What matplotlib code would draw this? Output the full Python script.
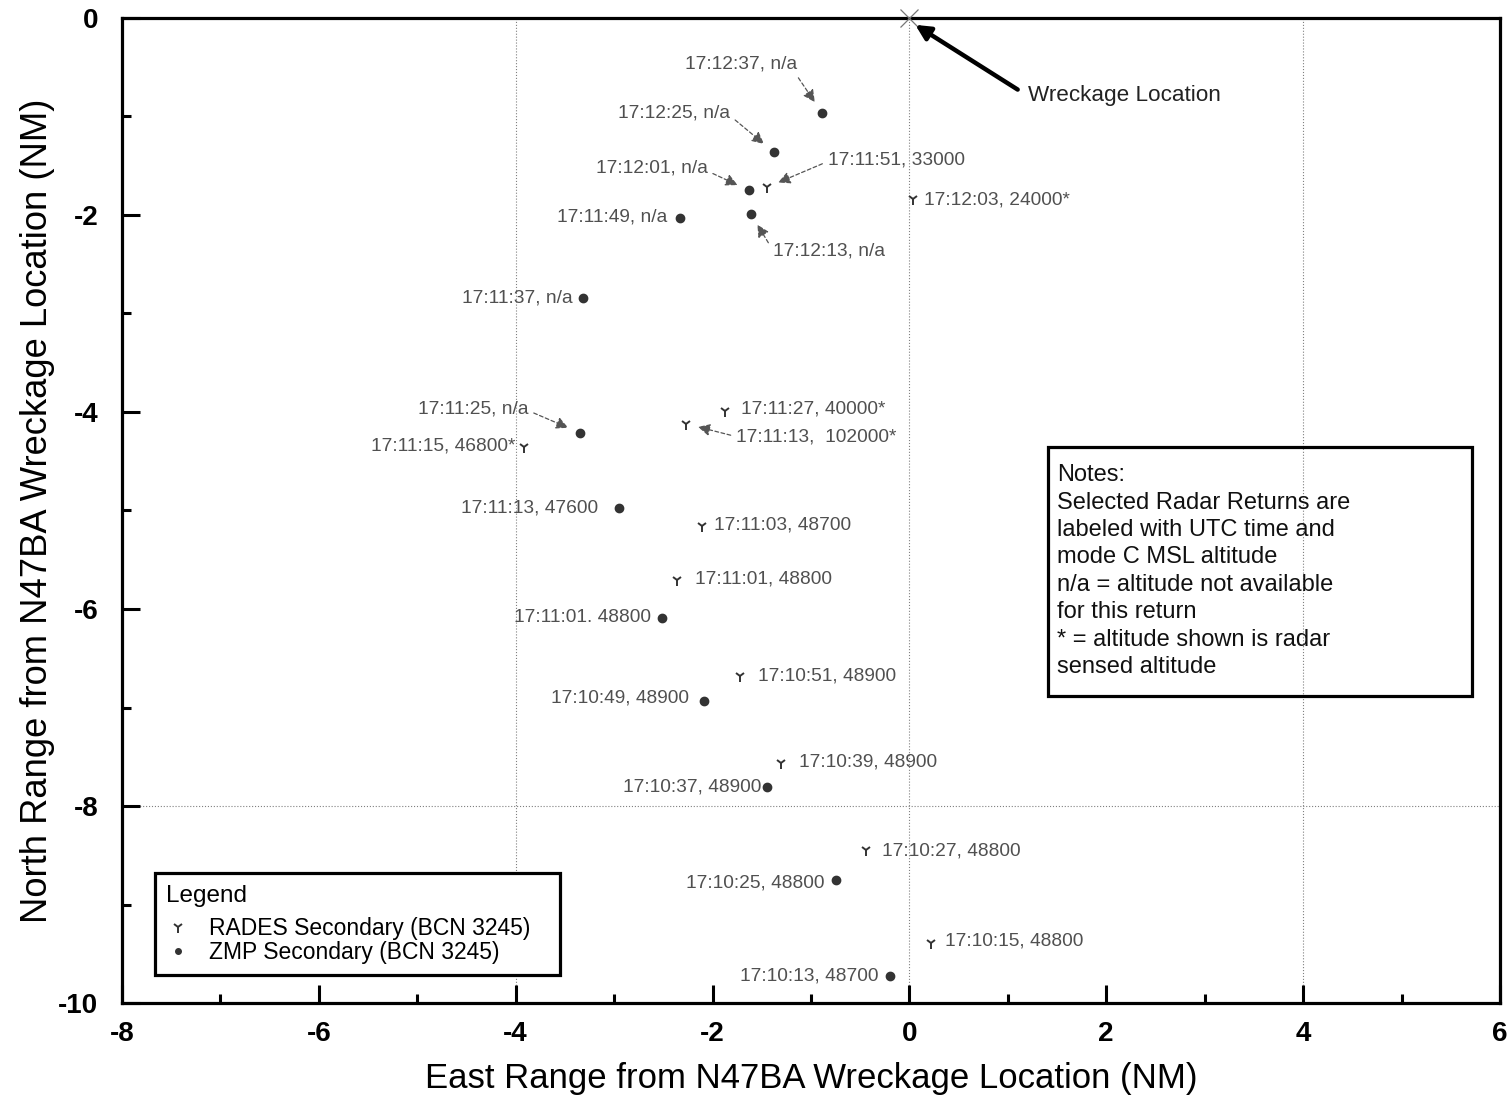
import matplotlib
matplotlib.use("Agg")
import matplotlib.pyplot as plt
from matplotlib.lines import Line2D
from matplotlib.patches import Rectangle

plt.rcParams['font.family'] = ['Liberation Sans', 'DejaVu Sans']
plt.rcParams['axes.unicode_minus'] = False

# RADES secondary returns (east, north in NM)
rades_x = [0.04, -1.45, -1.87, -2.27, -3.92, -2.11, -2.36, -1.72, -1.30, -0.44, 0.22]
rades_y = [-1.84, -1.72, -3.99, -4.12, -4.36, -5.16, -5.71, -6.68, -7.56, -8.45, -9.39]
rades_lbl = ["17:12:03, 24000*", "17:11:51, 33000", "17:11:27, 40000*", "17:11:13,  102000*",
             "17:11:15, 46800*", "17:11:03, 48700", "17:11:01, 48800", "17:10:51, 48900",
             "17:10:39, 48900", "17:10:27, 48800", "17:10:15, 48800"]

# ZMP secondary returns
zmp_x = [-0.89, -1.38, -1.61, -1.63, -2.33, -3.32, -3.35, -2.95, -2.51, -2.09, -1.45, -0.75, -0.20]
zmp_y = [-0.96, -1.36, -1.99, -1.75, -2.03, -2.84, -4.21, -4.97, -6.09, -6.93, -7.81, -8.75, -9.73]
zmp_lbl = ["17:12:37, n/a", "17:12:25, n/a", "17:12:13, n/a", "17:12:01, n/a", "17:11:49, n/a",
           "17:11:37, n/a", "17:11:25, n/a", "17:11:13, 47600", "17:11:01. 48800",
           "17:10:49, 48900", "17:10:37, 48900", "17:10:25, 48800", "17:10:13, 48700"]

wreck_x, wreck_y = [0.0], [0.0]

note_lines = ["Notes:", "Selected Radar Returns are", "labeled with UTC time and",
              "mode C MSL altitude", "n/a = altitude not available", "for this return",
              "* = altitude shown is radar", "sensed altitude"]

# label placement: (x, y, ha, arrow relpos or None)
rades_pos = [(0.15, -1.85, 'left', None), (-0.83, -1.44, 'left', (0, 0.4)),
             (-1.71, -3.97, 'left', None), (-1.76, -4.25, 'left', (0, 0.5)),
             (-4.00, -4.35, 'right', None), (-1.98, -5.15, 'left', None),
             (-2.18, -5.70, 'left', None), (-1.54, -6.68, 'left', None),
             (-1.12, -7.55, 'left', None), (-0.28, -8.46, 'left', None),
             (0.36, -9.37, 'left', None)]
zmp_pos = [(-1.14, -0.47, 'right', (0.97, 0.1)), (-1.82, -0.96, 'right', (1, 0.3)),
           (-1.39, -2.37, 'left', (0, 0.6)), (-2.05, -1.52, 'right', (1, 0.3)),
           (-2.46, -2.02, 'right', None), (-3.42, -2.84, 'right', None),
           (-3.87, -3.97, 'right', (1, 0.4)), (-3.16, -4.97, 'right', None),
           (-2.63, -6.09, 'right', None), (-2.24, -6.90, 'right', None),
           (-1.50, -7.81, 'right', None), (-0.86, -8.78, 'right', None),
           (-0.31, -9.73, 'right', None)]

lbl_col = '#505050'

fig = plt.figure(figsize=(15.11, 10.95), dpi=100)
ax = fig.add_axes([0.0807, 0.0840, 0.9120, 0.8996])
ax.set_xlim(-8, 6)
ax.set_ylim(-10, 0)

for gx in [-4, 0, 4]:
    ax.axvline(gx, color='#808080', lw=0.8, ls=':', zorder=0)
ax.axhline(-8, color='#808080', lw=0.8, ls=':', zorder=0)

ax.plot(rades_x, rades_y, ls='none', marker='1', ms=8, mew=1.4, color='#333333', zorder=3)
ax.plot(zmp_x, zmp_y, ls='none', marker='o', ms=6, color='#333333', zorder=3)
ax.plot(wreck_x, wreck_y, ls='none', marker='x', ms=13, mew=0.9, color='#777777', clip_on=False, zorder=3)

arrow_kw = dict(arrowstyle='-|>', color='#555555', lw=0.9, ls=(0, (3, 2)),
                mutation_scale=18, shrinkA=2, shrinkB=9)


def put_labels(xs, ys, labels, positions):
    for x, y, s, (tx, ty, ha, rel) in zip(xs, ys, labels, positions):
        if rel is None:
            ax.text(tx, ty, s, ha=ha, va='center', fontsize=13.8, color=lbl_col)
        else:
            ax.annotate(s, xy=(x, y), xytext=(tx, ty), ha=ha, va='center',
                        fontsize=13.8, color=lbl_col,
                        arrowprops=dict(relpos=rel, **arrow_kw))


put_labels(rades_x, rades_y, rades_lbl, rades_pos)
put_labels(zmp_x, zmp_y, zmp_lbl, zmp_pos)

ax.annotate("Wreckage Location", xy=(0.06, -0.07), xytext=(1.20, -0.79),
            ha='left', va='center', fontsize=16.2, color='#222222',
            arrowprops=dict(arrowstyle='-|>', color='black', lw=3.2, relpos=(0, 0.5),
                            mutation_scale=22, shrinkA=6, shrinkB=0))

# notes box
ax.add_patch(Rectangle((1.41, -6.88), 4.31, 2.525, fill=False, ec='black', lw=2.3, zorder=4))
for i, line in enumerate(note_lines):
    ax.text(1.50, -4.64 - i * 0.279, line, ha='left', va='center', fontsize=17, color='#111111')

# legend
handles = [Line2D([], [], ls='none', marker='1', ms=8, mew=1.4, color='#333333'),
           Line2D([], [], ls='none', marker='o', ms=4, color='#333333')]
leg = ax.legend(handles, ["RADES Secondary (BCN 3245)", "ZMP Secondary (BCN 3245)"],
                title="Legend", alignment='left', loc='lower left',
                bbox_to_anchor=(0.024, 0.0284, 0.294, 0.105), mode='expand', borderaxespad=0,
                fontsize=16.5, title_fontsize=17.5, fancybox=False, framealpha=1,
                handlelength=1.0, handletextpad=0.85, labelspacing=0.02, borderpad=0.5)
leg._legend_box.sep = 7.5
leg.get_frame().set_edgecolor('black')
leg.get_frame().set_linewidth(2.3)

ax.set_xticks(range(-8, 7, 2))
ax.set_xticks(range(-7, 6, 2), minor=True)
ax.set_yticks(range(-10, 1, 2))
ax.set_yticks(range(-9, 0, 2), minor=True)
ax.tick_params(which='both', direction='in', width=2.2, top=False, right=False)
ax.tick_params(which='major', length=13)
ax.tick_params(which='minor', length=6.5)
ax.tick_params(axis='x', pad=13)
ax.tick_params(axis='y', pad=17)
for lab in ax.get_xticklabels() + ax.get_yticklabels():
    lab.set_fontsize(20)
    lab.set_fontweight('bold')
for sp in ax.spines.values():
    sp.set_linewidth(2.3)

ax.set_xlabel("East Range from N47BA Wreckage Location (NM)", fontsize=25, labelpad=11)
ax.set_ylabel("North Range from N47BA Wreckage Location (NM)", fontsize=26.2, labelpad=2)

fig.savefig("out.png", dpi=100)
